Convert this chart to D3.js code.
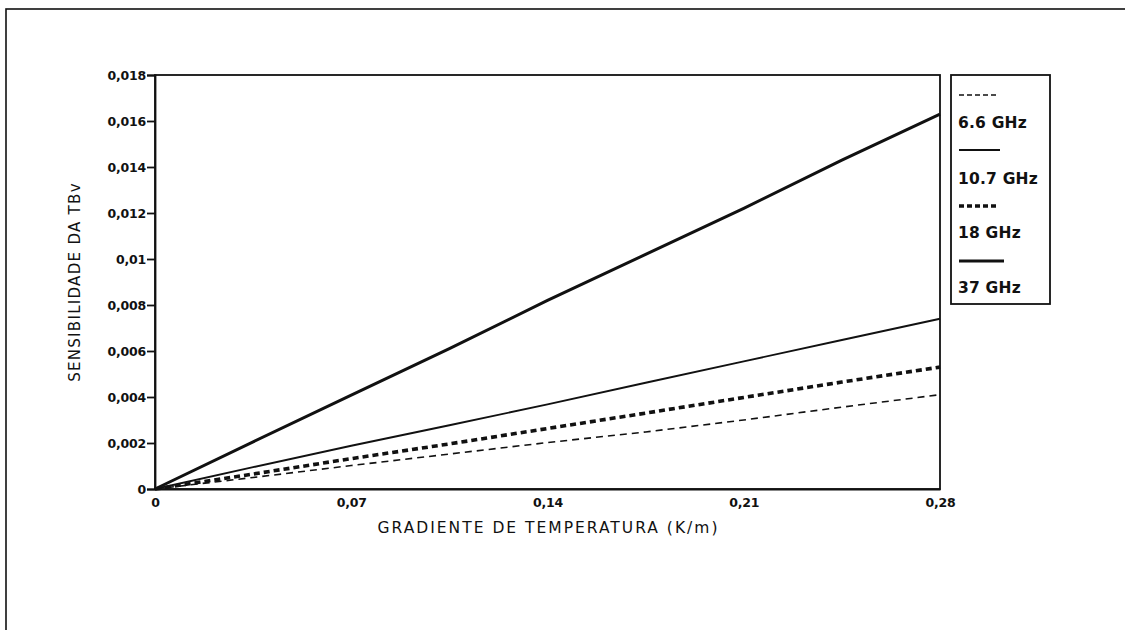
<!DOCTYPE html>
<html>
<head>
<meta charset="utf-8">
<script src="https://cdn.jsdelivr.net/npm/d3@7"></script>
<style>
  html, body { margin: 0; padding: 0; background: #fff; }
  svg { display: block; }
  text { font-family: "DejaVu Sans", "Liberation Sans", Arial, sans-serif; fill: #111; }
</style>
</head>
<body>
<svg id="chart" width="1125" height="630"></svg>
<script>
// ---- data ----
const gradient = [0, 0.035, 0.07, 0.105, 0.14, 0.175, 0.21, 0.245, 0.28];
const s66  = [0, 0.0005, 0.00102, 0.00152, 0.00202, 0.00248, 0.00300, 0.00356, 0.0041];
const s107 = [0, 0.00095, 0.00188, 0.00277, 0.00368, 0.00462, 0.00555, 0.00648, 0.0074];
const s18  = [0, 0.00065, 0.00132, 0.00196, 0.00263, 0.00330, 0.00398, 0.00465, 0.0053];
const s37  = [0, 0.00205, 0.00408, 0.0061, 0.0082, 0.0102, 0.0122, 0.0143, 0.0163];
const seriesNames = ["6.6 GHz", "10.7 GHz", "18 GHz", "37 GHz"];
const xTicks = [0, 0.07, 0.14, 0.21, 0.28];
const xTickLabels = ["0", "0,07", "0,14", "0,21", "0,28"];
const yTicks = [0, 0.002, 0.004, 0.006, 0.008, 0.01, 0.012, 0.014, 0.016, 0.018];
const yTickLabels = ["0", "0,002", "0,004", "0,006", "0,008", "0,01", "0,012", "0,014", "0,016", "0,018"];
const xTitle = "GRADIENTE DE TEMPERATURA (K/m)";
const yTitle = "SENSIBILIDADE DA TBv";

// ---- styles ----
const styles = [
  { width: 1.6, dash: "7,5" },
  { width: 1.9, dash: null },
  { width: 3.6, dash: "6,4" },
  { width: 3.0, dash: null }
];
const legendDash = ["5,3", null, "5,3", null];
const seriesValues = [s66, s107, s18, s37];

const svg = d3.select("#chart");

// outer frame
svg.append("rect").attr("x", 6).attr("y", 9).attr("width", 1140).attr("height", 640)
  .attr("fill", "none").attr("stroke", "#111").attr("stroke-width", 1.6);

const L = 155, R = 940, T = 75, B = 489;
const x = d3.scaleLinear().domain([0, 0.28]).range([L, R]);
const y = d3.scaleLinear().domain([0, 0.018]).range([B, T]);

// plot frame
svg.append("rect").attr("x", L).attr("y", T).attr("width", R - L).attr("height", B - T)
  .attr("fill", "none").attr("stroke", "#111").attr("stroke-width", 1.8);

// y axis
const yAxis = d3.axisLeft(y).tickValues(yTicks)
  .tickFormat((d, i) => yTickLabels[i]).tickSize(8).tickPadding(1);
const gy = svg.append("g").attr("transform", `translate(${L},0)`).call(yAxis);
gy.select(".domain").attr("stroke", "#111").attr("stroke-width", 1.8);
gy.selectAll(".tick line").attr("stroke", "#111").attr("stroke-width", 1.8);
gy.selectAll(".tick text").style("font-size", "12.5px").style("font-weight", "bold")
  .style("letter-spacing", "-0.2px")
  .style("font-family", '"DejaVu Sans", sans-serif').attr("fill", "#111");

// x axis
const xAxis = d3.axisBottom(x).tickValues(xTicks)
  .tickFormat((d, i) => xTickLabels[i]).tickSize(0).tickPadding(9);
const gx = svg.append("g").attr("transform", `translate(0,${B})`).call(xAxis);
gx.select(".domain").attr("stroke", "#111").attr("stroke-width", 2.2);
gx.selectAll(".tick text").style("font-size", "12.5px").style("font-weight", "bold")
  .style("letter-spacing", "-0.2px")
  .style("font-family", '"DejaVu Sans", sans-serif').attr("fill", "#111");

// titles
svg.append("text").attr("x", (L + R) / 2 + 1).attr("y", 533).attr("text-anchor", "middle")
  .style("font-size", "15.5px").style("letter-spacing", "2px").text(xTitle);
svg.append("text").attr("transform", `translate(80,${(T + B) / 2}) rotate(-90)`)
  .attr("text-anchor", "middle").style("font-size", "15px").style("letter-spacing", "1.3px").text(yTitle);

// lines
const line = d3.line().x((d, i) => x(gradient[i])).y(d => y(d));
seriesValues.forEach((vals, k) => {
  svg.append("path").datum(vals).attr("d", line)
    .attr("fill", "none").attr("stroke", "#111")
    .attr("stroke-width", styles[k].width)
    .attr("stroke-dasharray", styles[k].dash)
    .attr("stroke-linecap", "butt");
});

// legend
const lg = svg.append("g");
lg.append("rect").attr("x", 951).attr("y", 75).attr("width", 99).attr("height", 229)
  .attr("fill", "#fff").attr("stroke", "#111").attr("stroke-width", 1.8);
const sampleY = [95, 150, 206, 261];
const textY = [122, 178, 232, 287];
const sampleEnd = [998, 1000, 998, 1004];
seriesNames.forEach((name, k) => {
  lg.append("line").attr("x1", 959).attr("x2", sampleEnd[k])
    .attr("y1", sampleY[k]).attr("y2", sampleY[k])
    .attr("stroke", "#111").attr("stroke-width", styles[k].width)
    .attr("stroke-dasharray", legendDash[k]);
  lg.append("text").attr("x", 958).attr("y", textY[k]).attr("dy", "0.36em")
    .style("font-size", "15.5px").style("font-weight", "bold")
    .style("letter-spacing", "0.2px").text(name);
});
</script>
</body>
</html>
